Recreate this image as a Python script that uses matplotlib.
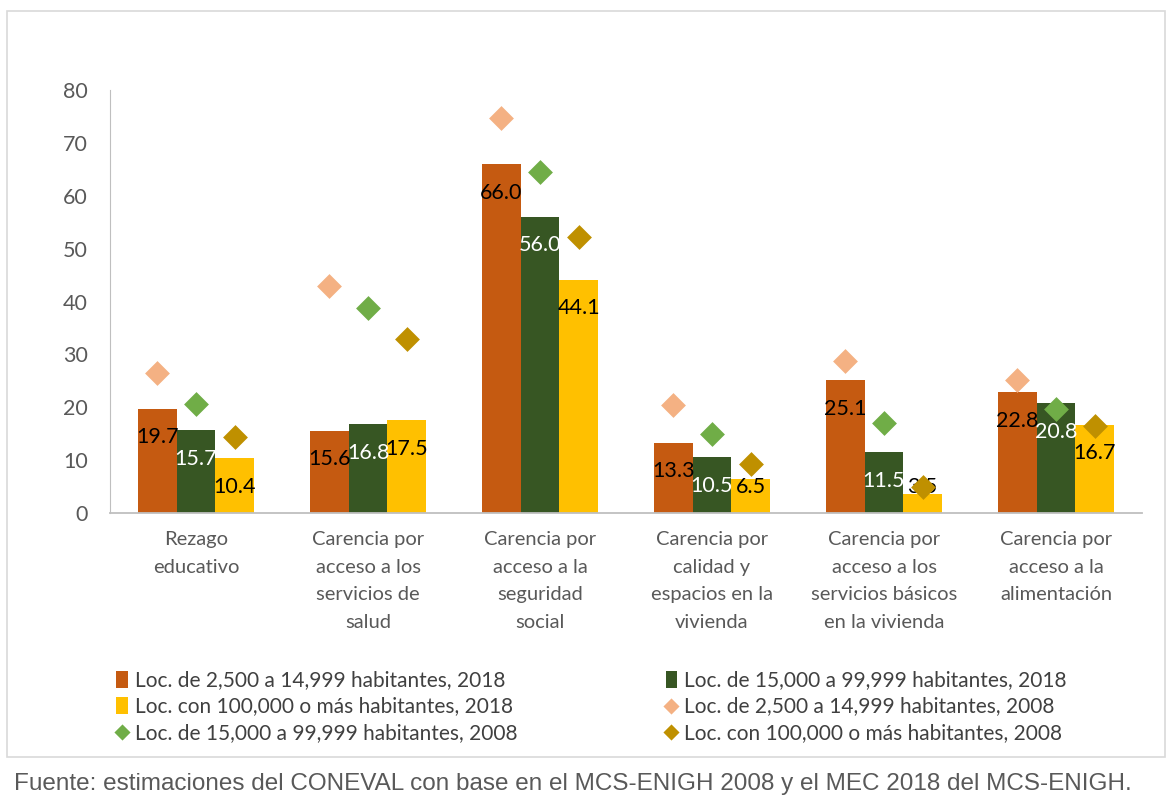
import numpy as np
import matplotlib.pyplot as plt
from matplotlib.patches import Rectangle

categorias = ["Rezago\neducativo",
              "Carencia por\nacceso a los\nservicios de\nsalud",
              "Carencia por\nacceso a la\nseguridad\nsocial",
              "Carencia por\ncalidad y\nespacios en la\nvivienda",
              "Carencia por\nacceso a los\nservicios básicos\nen la vivienda",
              "Carencia por\nacceso a la\nalimentación"]

# 2018 (barras)
chicas_2018 = [19.7, 15.6, 66.0, 13.3, 25.1, 22.8]
medianas_2018 = [15.7, 16.8, 56.0, 10.5, 11.5, 20.8]
grandes_2018 = [10.4, 17.5, 44.1, 6.5, 3.5, 16.7]
# 2008 (rombos, valores)
chicas_2008 = [26.5, 42.9, 74.7, 20.4, 28.7, 25.1]
medianas_2008 = [20.6, 38.8, 64.5, 14.9, 17.0, 19.7]
grandes_2008 = [14.4, 32.9, 52.2, 9.3, 4.9, 16.4]

nombres = ["Loc. de 2,500 a 14,999 habitantes, 2018",
           "Loc. de 15,000 a 99,999 habitantes, 2018",
           "Loc. con 100,000 o más habitantes, 2018",
           "Loc. de 2,500 a 14,999 habitantes, 2008",
           "Loc. de 15,000 a 99,999 habitantes, 2008",
           "Loc. con 100,000 o más habitantes, 2008"]

col_barras = ["#C55A11", "#375623", "#FFC000"]
col_texto = ["black", "white", "black"]
col_rombos = ["#F4B183", "#70AD47", "#BF9000"]

plt.rcParams['font.family'] = ['Lato', 'DejaVu Sans']

fig = plt.figure(figsize=(11.72, 8.05), dpi=100)
# borde del area del grafico
fig.patches.append(Rectangle((7/1172, 1-757/805), 1158/1172, 746/805,
                             transform=fig.transFigure, fill=False,
                             edgecolor="#D9D9D9", linewidth=1.2))

ax = fig.add_axes([110/1172, 1-513/805, 1032/1172, 423/805])
x = np.arange(len(categorias))
w = 0.225
barras = [chicas_2018, medianas_2018, grandes_2018]
rombos = [chicas_2008, medianas_2008, grandes_2008]
handles = []
for i in range(3):
    pos = x + (i-1)*w
    b = ax.bar(pos, barras[i], w, color=col_barras[i], label=nombres[i])
    handles.append(b)
    for p, v in zip(pos, barras[i]):
        ax.text(p, max(v-5.4, 4.9), f"{v:.1f}", ha="center", va="center",
                fontsize=15.5, color=col_texto[i])
for i in range(3):
    pos = x + (i-1)*w
    s = ax.scatter(pos, rombos[i], marker="D", s=160, color=col_rombos[i],
                   label=nombres[3+i], zorder=3, linewidths=0)
    handles.append(s)

ax.set_xlim(-0.5, len(categorias)-0.5)
ax.set_ylim(0, 80)
ax.set_yticks(range(0, 81, 10))
ax.set_xticks(x)
ax.set_xticklabels(categorias, fontsize=14.5, color="#595959", linespacing=1.75)
ax.tick_params(axis="y", labelsize=15.5, labelcolor="#595959", length=0, pad=16)
ax.tick_params(axis="x", length=0, pad=13)
for s in ["top", "right"]:
    ax.spines[s].set_visible(False)
ax.spines["left"].set_color("#BFBFBF")
ax.spines["bottom"].set_color("#BFBFBF")
ax.spines["bottom"].set_linewidth(1.3)

# orden por columnas para que las filas coincidan con el original
orden = [0, 2, 4, 1, 3, 5]
fig.legend([handles[k] for k in orden], [nombres[k] for k in orden],
           ncol=2, loc="upper left", bbox_to_anchor=(108/1172, 1-662/805),
           frameon=False, fontsize=15, labelcolor="#404040",
           handlelength=0.55, handleheight=0.9, handletextpad=0.35,
           columnspacing=7.1, labelspacing=0.3, borderaxespad=0,
           markerscale=0.65)

fig.text(14/1172, 1-784/805,
         "Fuente: estimaciones del CONEVAL con base en el MCS-ENIGH 2008 y el MEC 2018 del MCS-ENIGH.",
         fontsize=17.5, color="#595959", family="Liberation Sans", va="center")

fig.savefig("out.png", dpi=100)
